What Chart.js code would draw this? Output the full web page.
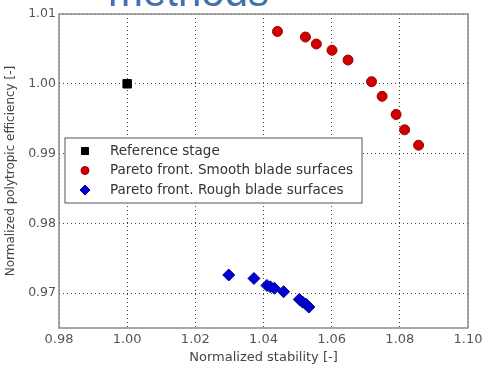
<!DOCTYPE html>
<html lang="en">
<head>
    <meta charset="UTF-8">
    <title>Pareto front</title>
    <script src="https://cdn.jsdelivr.net/npm/chart.js"></script>
    <style>
        html, body { margin: 0; padding: 0; background: #fff; overflow: hidden; }
        #wrap { position: relative; width: 483px; height: 365px; }
        #heading {
            position: absolute; left: 108px; top: -29px;
            font-family: "Liberation Sans", Arial, sans-serif;
            font-size: 42px; line-height: 42px; color: #3f72af;
            white-space: nowrap;
        }
    </style>
</head>
<body>
<div id="wrap">
    <canvas id="myChart" width="483" height="365"></canvas>
    <div id="heading">methods</div>
</div>
<script>
    // data
    const refX = [1.000];
    const refY = [1.000];
    const smoothX = [1.0441, 1.0523, 1.0555, 1.0601, 1.0648, 1.0717, 1.0748, 1.0789, 1.0814, 1.0855];
    const smoothY = [1.0075, 1.0067, 1.0057, 1.0048, 1.0034, 1.0003, 0.9982, 0.9956, 0.9934, 0.9912];
    const roughX = [1.0298, 1.0372, 1.0410, 1.0420, 1.0432, 1.0459, 1.0505, 1.0515, 1.0525, 1.0533];
    const roughY = [0.9726, 0.9721, 0.9711, 0.9709, 0.9707, 0.9702, 0.9691, 0.9687, 0.9684, 0.9680];
    const xTicks = [0.98, 1.00, 1.02, 1.04, 1.06, 1.08, 1.10];
    const yTicks = [0.97, 0.98, 0.99, 1.00, 1.01];
    const seriesNames = ['Reference stage', 'Pareto front. Smooth blade surfaces', 'Pareto front. Rough blade surfaces'];

    const pts = (xs, ys) => xs.map((x, i) => ({ x: x, y: ys[i] }));
    const font = '"DejaVu Sans", sans-serif';

    // box around plot + legend inside the axes
    const framePlugin = {
        id: 'frame',
        afterDraw(chart) {
            const a = chart.chartArea;
            const ctx = chart.ctx;
            ctx.save();
            ctx.strokeStyle = '#8a8a8a';
            ctx.lineWidth = 1.5;
            ctx.strokeRect(a.left, a.top, a.right - a.left, a.bottom - a.top);

            // legend
            const bx = 65, by = 138, bw = 297, bh = 65;
            ctx.fillStyle = '#fff';
            ctx.fillRect(bx, by, bw, bh);
            ctx.strokeStyle = '#555';
            ctx.lineWidth = 1;
            ctx.strokeRect(bx, by, bw, bh);
            ctx.font = '13.5px ' + font;
            ctx.textBaseline = 'middle';
            chart.data.datasets.forEach((ds, i) => {
                const cy = by + 13 + i * 19.5;
                ctx.fillStyle = ds.backgroundColor;
                ctx.strokeStyle = ds.borderColor;
                ctx.lineWidth = 1;
                Chart.helpers.drawPoint(ctx, { pointStyle: ds.pointStyle, radius: ds.pointRadius - 1, borderWidth: 1 }, 85, cy);
                ctx.fillStyle = '#333';
                ctx.fillText(ds.label, 110, cy);
            });
            ctx.restore();
        }
    };

    const ctx = document.getElementById('myChart').getContext('2d');
    const myChart = new Chart(ctx, {
        type: 'scatter',
        data: {
            datasets: [
                {
                    label: seriesNames[0],
                    data: pts(refX, refY),
                    pointStyle: 'rect',
                    pointRadius: 6,
                    backgroundColor: '#000000',
                    borderColor: '#000000'
                },
                {
                    label: seriesNames[1],
                    data: pts(smoothX, smoothY),
                    pointStyle: 'circle',
                    pointRadius: 5,
                    backgroundColor: '#d10000',
                    borderColor: '#990000'
                },
                {
                    label: seriesNames[2],
                    data: pts(roughX, roughY),
                    pointStyle: 'rectRot',
                    pointRadius: 6,
                    backgroundColor: '#0000d0',
                    borderColor: '#000099'
                }
            ]
        },
        options: {
            responsive: false,
            animation: false,
            layout: { padding: { left: 0, right: 15, top: 14, bottom: 0 } },
            plugins: {
                legend: { display: false },
                tooltip: { enabled: false }
            },
            scales: {
                x: {
                    type: 'linear',
                    min: 0.98,
                    max: 1.10,
                    afterBuildTicks: s => { s.ticks = xTicks.map(v => ({ value: v })); },
                    afterFit: s => { s.height = 37; s.paddingLeft = 0; s.paddingRight = 0; },
                    grid: { color: '#444', drawTicks: false, lineWidth: 1 },
                    border: { display: false, dash: [1, 3] },
                    ticks: {
                        padding: 4,
                        color: '#555',
                        font: { family: font, size: 13 },
                        callback: v => v.toFixed(2)
                    },
                    title: {
                        display: true,
                        text: 'Normalized stability [-]',
                        color: '#444',
                        font: { family: font, size: 13 },
                        padding: { top: 0, bottom: 0 }
                    }
                },
                y: {
                    type: 'linear',
                    min: 0.965,
                    max: 1.01,
                    afterBuildTicks: s => { s.ticks = yTicks.map(v => ({ value: v })); },
                    afterFit: s => { s.width = 59; s.paddingTop = 0; s.paddingBottom = 0; },
                    grid: { color: '#444', drawTicks: false, lineWidth: 1 },
                    border: { display: false, dash: [1, 3] },
                    ticks: {
                        padding: 3,
                        color: '#555',
                        font: { family: font, size: 12.5 },
                        callback: v => v.toFixed(2)
                    },
                    title: {
                        display: true,
                        text: 'Normalized polytropic efficiency [-]',
                        color: '#444',
                        font: { family: font, size: 12 },
                        padding: { top: 4, bottom: 0 }
                    }
                }
            }
        },
        plugins: [framePlugin]
    });
</script>
</body>
</html>
